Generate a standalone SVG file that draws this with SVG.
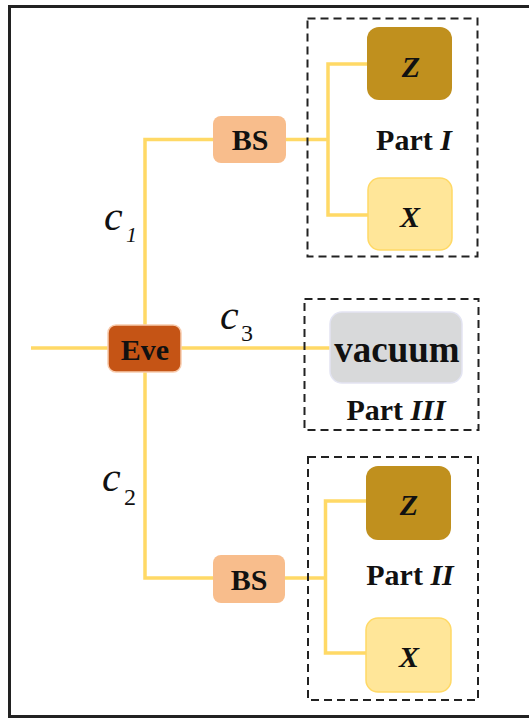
<svg xmlns="http://www.w3.org/2000/svg" width="529" height="718" viewBox="0 0 529 718">
<style>
.frame{fill:none;stroke:#222;stroke-width:3}
.part{fill:none;stroke:#222;stroke-width:2;stroke-dasharray:8 5}
.wire{fill:none;stroke:#FFD966;stroke-width:3.5}
.t{font-family:"Liberation Serif","Times New Roman",serif;font-weight:bold;font-size:30px;fill:#111;text-anchor:middle}
.i{font-style:italic}
.m{font-family:"Liberation Serif","Times New Roman",serif;font-style:italic;fill:#111}
.bs{fill:#F8BD8C}
.z{fill:#C0901E}
.x{fill:#FFE699;stroke:#FFD966;stroke-width:1.5}
</style>
<rect class="frame" x="9.5" y="6.5" width="530" height="710"/>
<g id="connectors">
<path class="wire" d="M31 348H108"/>
<path class="wire" d="M181 348H330"/>
<path class="wire" d="M145 325V139.5H213"/>
<path class="wire" d="M286 139.5H328"/>
<path class="wire" d="M367 64H328V215H368"/>
<path class="wire" d="M145 372V578H213"/>
<path class="wire" d="M285 578H325.5"/>
<path class="wire" d="M366 501H325.5V653H366"/>
</g>
<g id="labels">
<text class="m" x="104" y="230" font-size="42">c</text>
<text class="m" x="126" y="242" font-size="22">1</text>
<text class="m" x="220" y="329" font-size="42">c</text>
<text class="m" x="241" y="341" font-size="24" font-style="normal" style="font-style:normal">3</text>
<text class="m" x="102" y="491" font-size="42">c</text>
<text class="m" x="124" y="505" font-size="24" style="font-style:normal">2</text>
</g>
<g id="partI">
<rect class="part" x="307.5" y="18.5" width="170" height="238"/>
<text class="t" x="414" y="150">Part <tspan class="i">I</tspan></text>
</g>
<g id="partIII">
<rect class="part" x="304.5" y="299" width="174" height="131"/>
<text class="t" x="396" y="420">Part <tspan class="i">III</tspan></text>
</g>
<g id="partII">
<rect class="part" x="308" y="457" width="170" height="243"/>
<text class="t" x="410" y="585">Part <tspan class="i">II</tspan></text>
</g>
<g id="eve">
<rect x="108" y="325" width="73" height="47" rx="8" fill="#C55415" stroke="#F8CBAD" stroke-width="1.5"/>
<text class="t" x="145" y="360">Eve</text>
</g>
<g id="bs1">
<rect class="bs" x="213" y="116" width="73" height="47" rx="8"/>
<text class="t" x="250" y="150">BS</text>
</g>
<g id="bs2">
<rect class="bs" x="213" y="555" width="72" height="48" rx="8"/>
<text class="t" x="249" y="590">BS</text>
</g>
<g id="z1">
<rect class="z" x="367" y="27" width="85" height="73" rx="12"/>
<text class="t i" x="411" y="77">Z</text>
</g>
<g id="x1">
<rect class="x" x="368" y="178" width="84" height="72" rx="12"/>
<text class="t i" x="410" y="227">X</text>
</g>
<g id="vacuum">
<rect x="330" y="312" width="132" height="71" rx="12" fill="#D8D9DA" stroke="#E3E4F2" stroke-width="1.5"/>
<text class="t" x="397" y="362" font-size="37" style="font-size:37px">vacuum</text>
</g>
<g id="z2">
<rect class="z" x="366" y="466" width="85" height="74" rx="12"/>
<text class="t i" x="409" y="515">Z</text>
</g>
<g id="x2">
<rect class="x" x="366" y="618" width="85" height="74" rx="12"/>
<text class="t i" x="409" y="667">X</text>
</g>
</svg>
